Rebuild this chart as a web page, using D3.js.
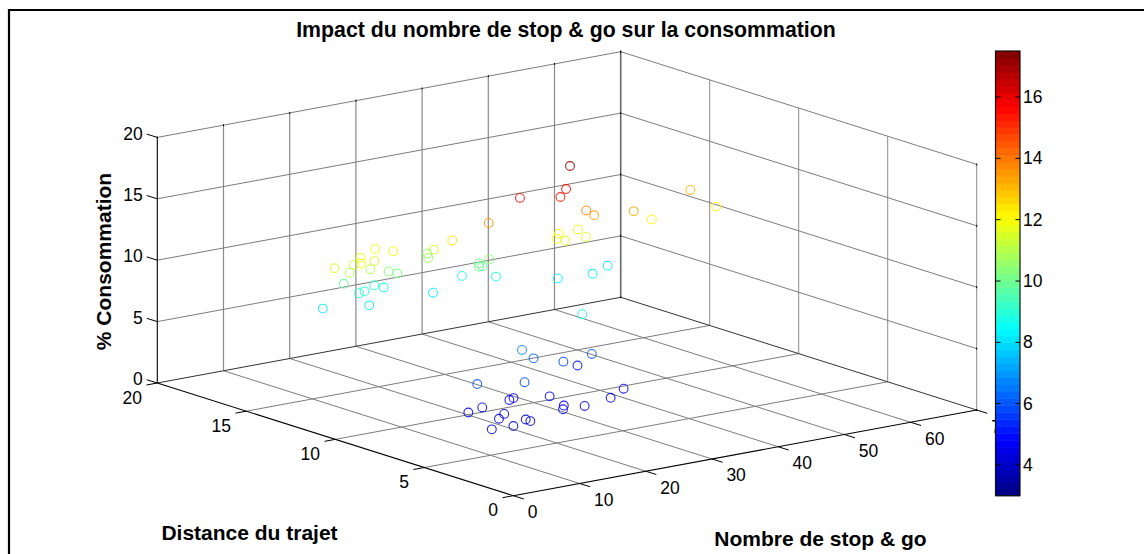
<!DOCTYPE html>
<html><head><meta charset="utf-8">
<script src="https://cdn.jsdelivr.net/npm/d3@7"></script>
<style>html,body{margin:0;padding:0;background:#fff}svg{display:block}text{font-family:"Liberation Sans",Arial,sans-serif;fill:#000}</style>
</head><body><svg id="c" width="1144" height="554"></svg>
<script>
const titleText = "Impact du nombre de stop & go sur la consommation";
const xLabel = "Nombre de stop & go";
const yLabel = "Distance du trajet";
const zLabel = "% Consommation";
const xTicks = [0,10,20,30,40,50,60,70];
const yTicks = [0,5,10,15,20];
const zTicks = [0,5,10,15,20];
const cTicks = [4,6,8,10,12,14,16];
const stops = [41.1,39.7,37.5,33.0,42.2,42.6,29.9,48.3,51.3,60.9,61.3,38.9,37.5,39.6,43.1,42.7,25.2,24.0,25.2,23.2,30.8,29.0,28.7,29.2,28.0,31.8,39.0,43.7,47.6,23.9,28.7,19.6,20.0,23.7,26.1,28.0,8.0,13.8,14.9,25.0,22.5,18.3,15.7,14.5,12.4,10.7,6.6,4.5,7.5,5.9,8.6,9.3,6.2,2.4,16.8,17.1,12.7,14.5,11.4,11.4,9.3,10.5,13.9,17.2,18.5,10.7,16.1,17.8,14.1,13.0,14.0,8.6];
const distance = [12.1,11.8,11.3,11.9,11.6,11.3,12.5,11.2,11.3,12.7,11.4,11.9,11.5,11.8,12.4,11.8,12.8,13.4,14.2,13.4,12.8,12.7,12.6,12.6,13.3,12.8,12.0,11.8,12.4,13.4,6.8,6.8,6.3,6.0,6.1,6.0,5.0,4.5,3.5,3.1,2.9,2.8,3.0,2.6,4.6,4.2,4.2,4.2,3.3,3.0,2.5,2.5,2.3,2.1,14.0,13.1,13.3,13.2,12.8,13.2,13.5,13.1,13.2,13.4,13.4,13.5,13.8,13.9,13.6,13.5,13.3,13.9];
const conso = [17.2,15.6,15.4,15.5,13.7,13.4,13.5,13.2,12.2,13.0,12.2,12.0,11.9,11.4,11.7,11.4,12.4,11.5,10.7,10.9,10.3,10.2,10.0,10.0,9.0,8.8,8.3,8.3,8.3,8.0,8.8,6.8,6.3,5.8,5.2,6.0,6.0,5.8,5.0,4.8,4.4,4.2,4.4,4.4,4.6,4.8,4.6,4.4,4.4,4.3,4.2,4.0,4.0,4.2,12.0,12.2,12.0,11.6,11.9,11.6,11.4,11.1,11.0,10.4,10.1,10.0,9.2,8.8,9.0,9.0,8.0,8.0];

const svg = d3.select("#c");
const O = {x:513.3, y:495.7};
const X = d3.scaleLinear().domain([0,70]);
const sxX = X.copy().range([0,463.4]), syX = X.copy().range([0,-85.7]);
const sxY = d3.scaleLinear().domain([0,20]).range([0,-356]);
const syY = d3.scaleLinear().domain([0,20]).range([0,-112.7]);
const syZ = d3.scaleLinear().domain([0,20]).range([0,-245.6]);
const P = (a,b,c)=>[O.x+sxX(a)+sxY(b), O.y+syX(a)+syY(b)+syZ(c)];
const line = (g,p,q,col,w)=>g.append("line").attr("x1",p[0]).attr("y1",p[1]).attr("x2",q[0]).attr("y2",q[1]).attr("stroke",col).attr("stroke-width",w);

// frame
svg.append("path").attr("d","M9,554V10H1144").attr("fill","none").attr("stroke","#000").attr("stroke-width",2.2);

const grid = svg.append("g"), G="#7d7d7d";
const xG = xTicks, yG = yTicks, zG = zTicks;
xG.slice(1).forEach(v=>{ if(v<70) line(grid,P(v,0,0),P(v,20,0),G,1);});
yG.slice(1).forEach(v=>{ if(v<20) line(grid,P(0,v,0),P(70,v,0),G,1);});
xG.slice(1).forEach(v=>{ line(grid,P(v,20,0),P(v,20,20),v===70?"#666":"#8a8a8a",v===70?1.6:1.2);});
yG.slice(0,-1).forEach(v=>{ line(grid,P(70,v,0),P(70,v,20),"#8a8a8a",1);});
zG.slice(1).forEach(v=>{ line(grid,P(0,20,v),P(70,20,v),G,1); line(grid,P(70,20,v),P(70,0,v),G,1);});
// box edges
const edges = svg.append("g");
line(edges,P(0,20,0),P(70,20,0),"#333",1);
line(edges,P(70,20,0),P(70,0,0),"#333",1);
line(edges,P(0,0,0),P(0,20,0),"#000",1.1);
line(edges,P(0,0,0),P(70,0,0),"#000",1.1);
line(edges,P(0,20,0),P(0,20,20),"#000",1.1);

// ticks and labels
const tickFont = 17.5;
const tk = svg.append("g").attr("font-size",tickFont);
const tx=(x,y,s,anchor)=>tk.append("text").attr("x",x).attr("y",y).attr("text-anchor",anchor).attr("dominant-baseline","central").text(s);
zTicks.forEach(v=>{
  const p=P(0,20,v), e=[p[0]-10.6,p[1]-3.3];
  line(tk,p,e,"#000",1);
  tx(e[0]-4,e[1]-.5,v,"end");
  const t=P(70,20,v); line(tk,[t[0],t[1]-1],[t[0],t[1]+1],"#000",1);
  const r=P(70,0,v); line(tk,[r[0],r[1]-1],[r[0],r[1]+1],"#000",1);
});
yTicks.forEach(v=>{
  const p=P(0,v,0), e=[p[0]-10.8,p[1]+2];
  line(tk,p,e,"#000",1);
  tx(e[0]-4.5,e[1]+12.5,v,"end");
});
xTicks.forEach(v=>{
  const p=P(v,0,0), e=[p[0]+10.6,p[1]+3.3];
  line(tk,p,e,"#000",1);
  tx(p[0]+14.5,p[1]+16.5,v,"start");
  const t=P(v,20,20); line(tk,[t[0],t[1]-1],[t[0],t[1]+1],"#000",1);
});

// jet colormap, 64 levels
const jetAt = t=>{const f=d=>Math.max(0,Math.min(1,1.5-Math.abs(4*t-d)));return d3.rgb(255*f(3),255*f(2),255*f(1));};
const jet = d3.range(64).map(i=>jetAt((i+.5)/64).formatHex());
const color = d3.scaleQuantize().domain([3,17.5]).range(jet);

// points
svg.append("g").selectAll("circle").data(conso).join("circle")
  .attr("cx",(d,i)=>P(stops[i],distance[i],d)[0])
  .attr("cy",(d,i)=>P(stops[i],distance[i],d)[1])
  .attr("r",4.4).attr("fill","none").attr("stroke",d=>color(d)).attr("stroke-width",1.1).attr("stroke-opacity",.85);

// colorbar
const cb = svg.append("g");
const cy = d3.scaleLinear().domain([3,17.5]).range([495.7,51]);
const cx0=996, cx1=1020;
cb.selectAll("rect").data(jet).join("rect")
  .attr("x",cx0).attr("width",cx1-cx0)
  .attr("y",(d,i)=>cy(3+(i+1)*14.5/64)).attr("height",(495.7-51)/64+.5).attr("fill",d=>d);
cb.append("rect").attr("x",cx0-.5).attr("y",51).attr("width",cx1-cx0+.5).attr("height",444.7).attr("fill","none").attr("stroke","#111").attr("stroke-width",1.2);
cTicks.forEach(v=>{
  const y=cy(v);
  line(cb,[cx0,y],[cx0+4.5,y],"#000",1);
  line(cb,[cx1-4.5,y],[cx1,y],"#000",1);
  cb.append("text").attr("x",1023).attr("y",y).attr("font-size",tickFont).attr("dominant-baseline","central").text(v);
});

// titles
const T=svg.append("g").attr("font-weight","bold").attr("font-size",21);
T.append("text").attr("x",566).attr("y",30).attr("text-anchor","middle").attr("dominant-baseline","central").attr("font-size",21.3).text(titleText);
T.append("text").attr("x",249.5).attr("y",532.5).attr("text-anchor","middle").attr("dominant-baseline","central").text(yLabel);
T.append("text").attr("x",820.5).attr("y",538).attr("text-anchor","middle").attr("dominant-baseline","central").text(xLabel);
T.append("text").attr("transform","translate(103,261.5) rotate(-90)").attr("text-anchor","middle").attr("dominant-baseline","central").text(zLabel);
</script></body></html>
